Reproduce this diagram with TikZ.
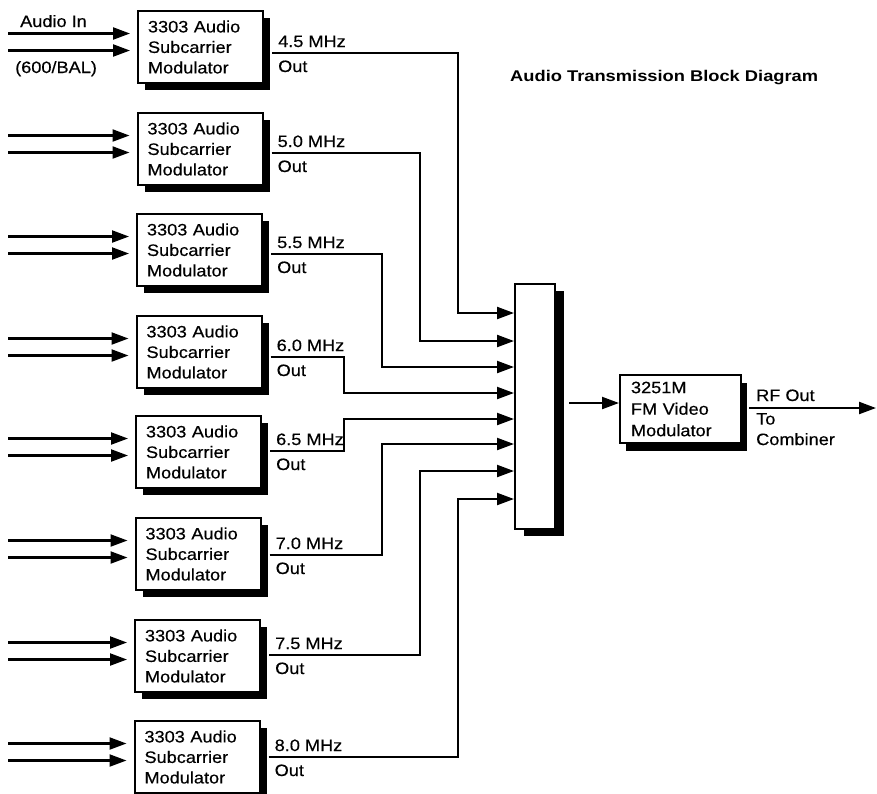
\documentclass[tikz,border=0pt]{standalone}
\usepackage{fontspec}
\setmainfont{Liberation Sans}[FakeStretch=1.1, FakeBold=0.4]
\newfontfamily\titlefont{Liberation Sans}[FakeStretch=1.18]
\usetikzlibrary{arrows.meta,calc,shadows}
\begin{document}
\begin{tikzpicture}[x=1pt,y=-1pt,
  txt/.style={font=\fontsize{16.5}{20.5}\selectfont, inner sep=0pt},
  modbox/.style={draw, line width=2pt, fill=white, minimum height=72pt,
    text width=105pt, inner xsep=10pt, inner ysep=0pt, align=left,
    font=\fontsize{16.5}{20.5}\selectfont,
    drop shadow={shadow xshift=7pt, shadow yshift=-7pt, fill=black, opacity=1}},
  fmbox/.style={draw, line width=2pt, fill=white, minimum height=68pt,
    text width=99pt, inner xsep=11pt, inner ysep=0pt, align=left,
    font=\fontsize{16.5}{21.5}\selectfont,
    drop shadow={shadow xshift=6pt, shadow yshift=-8pt, fill=black, opacity=1}},
  combbox/.style={draw, line width=2pt, fill=white, minimum width=40pt, minimum height=245pt,
    inner sep=0pt,
    drop shadow={shadow xshift=9pt, shadow yshift=-7pt, fill=black, opacity=1}},
  conn/.style={line width=2.2pt, -{Triangle[length=17pt,width=12pt]}},
  wire/.style={line width=2.2pt}
]
\useasboundingbox (0,0) rectangle (877,793);

% title
\node[anchor=base west, inner sep=0pt, font=\titlefont\bfseries\fontsize{15.5}{18}\selectfont] (title) at (510,81) {Audio Transmission Block Diagram};

% combiner
\node[combbox, anchor=north west] (comb) at (514,283) {};

% FM modulator
\node[fmbox, anchor=north west] (fm) at (619,374) {3251M\\FM Video\\Modulator};

% input labels
\node[txt, anchor=base west] (ain) at (20,27) {Audio In};
\node[txt, anchor=base west] (bal) at (15,73) {(600/BAL)};

\foreach \i/\t/\x/\ly/\f/\vx/\ay in {
  1/10/137/53/4.5/458/313,
  2/112/136.5/153/5.0/420/341,
  3/213/136/254/5.5/382/367,
  4/315/135.5/357/6.0/344/393,
  5/415/135/451/6.5/344/419,
  6/517/134.5/555/7.0/382/444,
  7/619/134/655/7.5/420/471,
  8/720/133.5/757/8.0/458/499}{
  \node[modbox, anchor=north west] (m\i) at (\x,\t) {3303 Audio\\Subcarrier\\Modulator};
  % inputs
  \coordinate (ia\i) at (8,\t+23.5);
  \coordinate (ib\i) at (8,\t+40.5);
  \draw[conn, shorten >=7pt] (ia\i) -- ($(m\i.north west)+(0,23.5)$);
  \draw[conn, shorten >=7pt] (ib\i) -- ($(m\i.north west)+(0,40.5)$);
  % output
  \coordinate (c\i) at ($(comb.north west)+(0,\ay-283)$);
  \draw[conn] ($(m\i.north east)+(8,\ly-\t)$) -| ($(c\i)+(\vx-514,0)$) -- (c\i);
  \node[txt, anchor=base west] (lf\i) at ($(m\i.north east)+(14,\ly-\t-6)$) {\f\ MHz};
  \node[txt, anchor=base west] (lo\i) at ($(m\i.north east)+(14,\ly-\t+19)$) {Out};
}

% combiner to FM
\coordinate (fmin) at ($(fm.north west)+(0,29)$);
\draw[conn] ($(comb.north east)+(13,120)$) -- (fmin);

% RF out
\coordinate (rf) at (876,408);
\draw[conn] ($(fm.north east)+(7,34)$) -- (rf);
\node[txt, anchor=base west] (rfl) at (756,401) {RF Out};
\node[txt, anchor=north west, align=left] (tol) at (756,413) {To\\Combiner};
\end{tikzpicture}
\end{document}
